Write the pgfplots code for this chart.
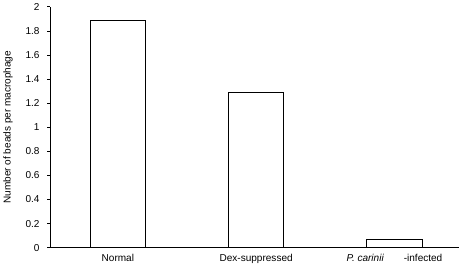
\documentclass[border=0pt]{standalone}
\usepackage{fontspec}
\setmainfont{Liberation Sans}
\usepackage{pgfplots}
\pgfplotsset{compat=1.18}
\begin{document}
\fontsize{10}{12}\selectfont
\begin{tikzpicture}
\begin{axis}[
  scale only axis,
  width=408pt, height=240pt,
  axis lines=left,
  axis line style={line width=1.1pt,-},
  ymin=0, ymax=2,
  xmin=-0.49, xmax=2.47,
  ytick={0,0.2,0.4,0.6,0.8,1,1.2,1.4,1.6,1.8,2},
  yticklabels={0,0.2,0.4,0.6,0.8,1,1.2,1.4,1.6,1.8,2},
  xtick={0,1,2},
  xticklabels={Normal,Dex-suppressed,{\itshape P. carinii}\hspace{2em}-infected},
  x tick style={draw=none},
  y tick style={line width=0.8pt,black},
  tick align=outside,
  major tick length=3pt,
  yticklabel style={xshift=-4pt},
  /pgf/number format/assume math mode=true,
  tick label style={font=\fontsize{10}{12}\selectfont},
  ylabel={Number of beads per macrophage},
  ylabel style={font=\fontsize{10}{12}\selectfont, yshift=6pt},
  ybar, bar width=0.4,
  enlarge x limits=false,
]
\addplot[draw=black, fill=white, line width=1.1pt] coordinates {(0,1.89) (1,1.29) (2,0.07)};
\end{axis}
\end{tikzpicture}
\end{document}
